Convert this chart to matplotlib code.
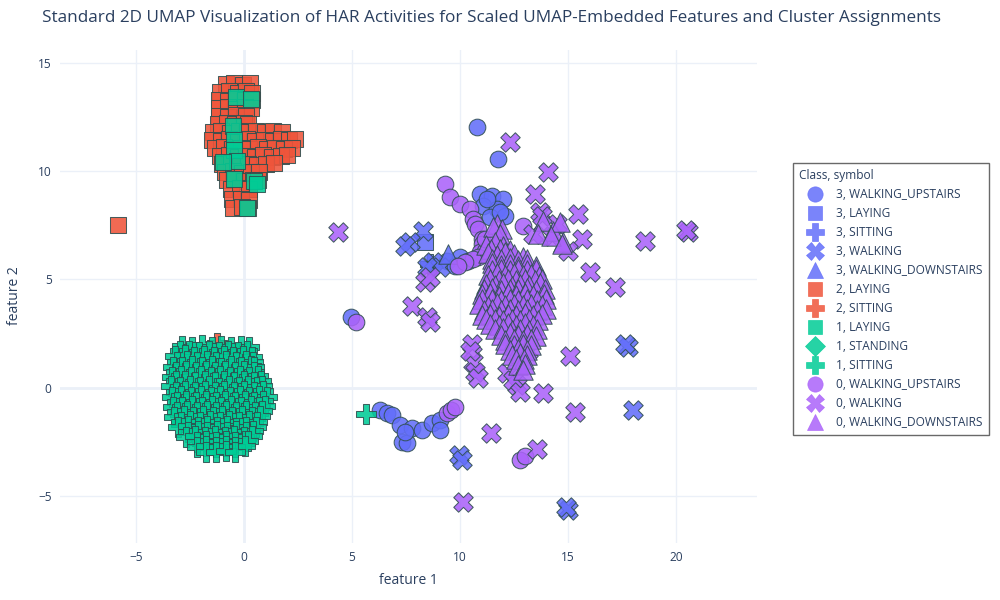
import matplotlib
matplotlib.use("Agg")
import matplotlib.pyplot as plt
from matplotlib.lines import Line2D

plt.rcParams['font.family'] = ['Open Sans', 'DejaVu Sans']

# ---------------- data (feature 1, feature 2) ----------------
c3_walking_upstairs = [
    (10.79, 12.04), (11.76, 10.56), (4.95, 3.24),
    (10.93, 8.94), (11.48, 8.84), (11.99, 8.70), (11.06, 8.38), (11.71, 8.24),
    (12.08, 7.92), (11.39, 7.87), (11.85, 8.10), (11.25, 8.70),
    (9.40, 5.83), (10.00, 6.02), (10.37, 5.83), (9.77, 5.60),
    (6.30, -1.02), (6.62, -1.16), (6.85, -1.25), (7.22, -1.71), (7.31, -2.50),
    (7.55, -2.55), (7.78, -1.85), (8.24, -1.94), (8.70, -1.62), (9.07, -1.48),
    (9.07, -1.94), (7.45, -2.04),
]
c3_laying = [(8.38, 6.71)]
c3_sitting = [(8.60, 5.70)]
c3_walking = [
    (8.29, 7.22), (7.69, 6.71), (7.45, 6.53), (8.75, 5.79), (9.07, 5.56),
    (8.47, 5.56), (17.78, 1.85), (17.64, 1.99), (18.01, -1.02), (9.95, -3.10),
    (10.09, -3.33), (15.00, -5.65), (14.91, -5.51),
]
c3_walking_downstairs = [(9.45, 6.15)]
c2_laying = [
    (-0.85, 14.03), (-0.45, 14.08), (-0.05, 13.98), (0.28, 14.05),
    (-1.10, 13.66), (-0.70, 13.70), (-0.30, 13.62), (0.10, 13.68), (0.37, 13.60),
    (-1.15, 13.29), (-0.75, 13.25), (-0.35, 13.32), (0.05, 13.27), (0.37, 13.30),
    (-1.15, 12.92), (-0.75, 12.96), (-0.35, 12.88), (0.05, 12.94), (0.32, 12.90),
    (-1.15, 12.55), (-0.75, 12.50), (-0.35, 12.58), (0.10, 12.52),
    (-1.20, 12.18), (-0.80, 12.22), (-0.40, 12.15), (0.00, 12.20), (0.20, 12.16),
    (-1.45, 11.81), (-1.05, 11.85), (-0.65, 11.78), (-0.25, 11.84), (0.15, 11.80),
    (0.55, 11.86), (0.95, 11.79), (1.35, 11.83), (1.75, 11.80),
    (-1.48, 11.44), (-1.08, 11.40), (-0.68, 11.47), (-0.28, 11.42), (0.12, 11.46),
    (0.52, 11.41), (0.92, 11.45), (1.32, 11.40), (1.72, 11.47), (2.10, 11.42), (2.35, 11.48),
    (-1.35, 11.06), (-0.95, 11.10), (-0.55, 11.03), (-0.15, 11.08), (0.25, 11.04),
    (0.65, 11.09), (1.05, 11.02), (1.45, 11.07), (1.85, 11.03), (2.20, 11.08),
    (-1.10, 10.69), (-0.70, 10.72), (-0.30, 10.66), (0.10, 10.71), (0.50, 10.67),
    (0.90, 10.72), (1.30, 10.65), (1.70, 10.70), (2.00, 10.75),
    (-1.00, 10.32), (-0.60, 10.35), (-0.20, 10.29), (0.20, 10.34), (0.60, 10.30),
    (1.00, 10.33), (1.40, 10.36),
    (-0.90, 9.95), (-0.50, 9.98), (-0.10, 9.92), (0.30, 9.97), (0.70, 9.94),
    (-0.80, 9.58), (-0.40, 9.61), (0.00, 9.55), (0.40, 9.60), (0.65, 9.57),
    (-0.60, 9.17), (-0.20, 9.20), (0.25, 9.15),
    (-0.55, 8.70), (-0.15, 8.73), (0.25, 8.68),
    (-0.50, 8.29), (-0.10, 8.32), (0.20, 8.27),
    (-5.83, 7.50),
]
c2_sitting = [(-1.25, 2.08)]
c1_laying = [
    (-0.36, 13.40), (0.34, 13.31), (-0.51, 12.08), (-0.46, 11.42), (-0.46, 10.98),
    (-0.32, 10.45), (-0.97, 10.40), (-0.46, 9.63), (0.47, 9.52), (0.60, 9.40),
    (0.14, 8.29),
]
c1_standing = [(-1.00, -0.50)]
c1_sitting = [
    (-2.85, 1.92), (-2.40, 1.86), (-1.95, 1.95), (-1.50, 1.88), (-1.05, 1.93),
    (-0.60, 1.87), (-0.15, 1.94), (0.25, 1.89),
    (-2.98, 1.67), (-2.53, 1.70), (-2.08, 1.64), (-1.63, 1.69), (-1.18, 1.66),
    (-0.73, 1.71), (-0.28, 1.65), (0.15, 1.68),
    (-3.20, 1.44), (-2.75, 1.49), (-2.30, 1.40), (-1.85, 1.46), (-1.40, 1.42),
    (-0.95, 1.48), (-0.50, 1.41), (-0.05, 1.47), (0.35, 1.43),
    (-3.08, 1.20), (-2.63, 1.23), (-2.18, 1.17), (-1.73, 1.22), (-1.28, 1.18),
    (-0.83, 1.24), (-0.38, 1.19), (0.07, 1.22), (0.40, 1.18),
    (-3.30, 0.97), (-2.85, 0.93), (-2.40, 1.01), (-1.95, 0.95), (-1.50, 0.99),
    (-1.05, 0.92), (-0.60, 1.00), (-0.15, 0.94), (0.30, 0.98), (0.45, 0.93),
    (-3.13, 0.74), (-2.68, 0.77), (-2.23, 0.71), (-1.78, 0.76), (-1.33, 0.72),
    (-0.88, 0.78), (-0.43, 0.73), (0.02, 0.76), (0.47, 0.71),
    (-3.35, 0.51), (-2.90, 0.55), (-2.45, 0.48), (-2.00, 0.53), (-1.55, 0.47),
    (-1.10, 0.54), (-0.65, 0.49), (-0.20, 0.55), (0.25, 0.50), (0.65, 0.52),
    (-3.16, 0.28), (-2.71, 0.31), (-2.26, 0.25), (-1.81, 0.30), (-1.36, 0.26),
    (-0.91, 0.32), (-0.46, 0.27), (-0.01, 0.30), (0.44, 0.25), (0.78, 0.29),
    (-3.38, 0.05), (-2.95, 0.01), (-2.50, 0.08), (-2.05, 0.03), (-1.60, 0.07),
    (-1.15, 0.00), (-0.70, 0.06), (-0.25, 0.02), (0.20, 0.08), (0.60, 0.04), (0.85, 0.06),
    (-3.16, -0.19), (-2.71, -0.16), (-2.26, -0.22), (-1.81, -0.17), (-1.36, -0.21),
    (-0.91, -0.15), (-0.46, -0.20), (-0.01, -0.17), (0.44, -0.22), (0.90, -0.18),
    (-3.35, -0.42), (-2.90, -0.38), (-2.45, -0.45), (-2.00, -0.40), (-1.55, -0.44),
    (-1.10, -0.37), (-0.65, -0.43), (-0.20, -0.39), (0.25, -0.45), (0.70, -0.40), (1.05, -0.42),
    (-3.12, -0.65), (-2.67, -0.62), (-2.22, -0.68), (-1.77, -0.63), (-1.32, -0.67),
    (-0.87, -0.61), (-0.42, -0.66), (0.03, -0.63), (0.48, -0.68), (0.88, -0.64),
    (-3.30, -0.88), (-2.85, -0.92), (-2.40, -0.85), (-1.95, -0.90), (-1.50, -0.84),
    (-1.05, -0.91), (-0.60, -0.86), (-0.15, -0.92), (0.30, -0.87), (0.70, -0.90), (0.95, -0.85),
    (-3.08, -1.11), (-2.63, -1.08), (-2.18, -1.14), (-1.73, -1.09), (-1.28, -1.13),
    (-0.83, -1.07), (-0.38, -1.12), (0.07, -1.09), (0.52, -1.14), (0.82, -1.10),
    (-3.25, -1.34), (-2.80, -1.30), (-2.35, -1.37), (-1.90, -1.31), (-1.45, -1.36),
    (-1.00, -1.32), (-0.55, -1.38), (-0.10, -1.33), (0.35, -1.36), (0.75, -1.31),
    (-2.93, -1.57), (-2.48, -1.54), (-2.03, -1.60), (-1.58, -1.55), (-1.13, -1.59),
    (-0.68, -1.53), (-0.23, -1.58), (0.22, -1.55), (0.60, -1.59),
    (-3.05, -1.81), (-2.60, -1.77), (-2.15, -1.84), (-1.70, -1.79), (-1.25, -1.83),
    (-0.80, -1.78), (-0.35, -1.85), (0.10, -1.80), (0.55, -1.82),
    (-2.60, -2.04), (-2.15, -2.01), (-1.70, -2.07), (-1.25, -2.02), (-0.80, -2.06),
    (-0.35, -2.00), (0.10, -2.05), (0.42, -2.02),
    (-2.70, -2.27), (-2.25, -2.23), (-1.80, -2.30), (-1.35, -2.25), (-0.90, -2.29),
    (-0.45, -2.24), (0.00, -2.28), (0.35, -2.25),
    (-2.20, -2.50), (-1.75, -2.47), (-1.30, -2.53), (-0.85, -2.48), (-0.40, -2.52),
    (0.05, -2.49), (0.20, -2.45),
    (-2.20, -2.73), (-1.75, -2.69), (-1.30, -2.75), (-0.85, -2.70), (-0.40, -2.74), (0.05, -2.71),
    (-1.75, -2.96), (-1.30, -2.99), (-0.85, -2.95), (-0.40, -2.98),
    (5.65, -1.20),
]
c0_walking_upstairs = [
    (5.19, 3.01),
    (9.31, 9.40), (9.54, 8.80), (10.00, 8.47), (10.46, 8.24), (10.60, 7.78),
    (10.69, 7.55), (10.83, 7.31), (11.02, 6.85), (11.02, 6.62), (10.93, 6.25),
    (11.16, 6.30), (10.83, 6.02), (10.60, 5.93), (10.23, 5.79), (9.91, 5.60),
    (11.16, 6.85), (12.92, 7.45),
    (9.40, -1.16), (9.58, -1.02), (9.77, -0.88),
    (12.78, -3.33), (13.01, -3.15),
]
c0_walking = [
    (4.35, 7.18), (12.31, 11.34), (14.07, 9.95), (13.47, 8.94), (13.70, 8.10),
    (13.38, 7.08), (14.26, 6.99), (15.46, 8.01), (15.65, 6.85), (15.00, 6.30),
    (16.02, 5.32), (17.18, 4.63), (18.56, 6.76), (20.56, 7.18), (20.46, 7.27),
    (14.49, 7.55), (13.80, 7.92),
    (8.38, 4.86), (8.61, 5.09), (7.78, 3.75), (8.47, 3.24), (8.61, 3.01),
    (10.56, 1.99), (10.60, 1.20), (10.69, 0.74), (10.83, 0.46), (10.46, 1.67),
    (12.18, 0.69), (12.64, 0.14), (13.15, 1.67), (13.84, -0.23), (15.09, 1.44),
    (15.32, -1.11), (11.44, -2.08), (13.56, -2.82), (10.14, -5.28),
    (12.45, 0.37), (12.78, -0.19),
]
c0_walking_downstairs = [
    (11.71, 7.55), (11.94, 7.31), (11.53, 7.41), (11.85, 7.08), (13.84, 7.69),
    (14.31, 7.22), (14.77, 6.71), (14.63, 7.64), (13.60, 7.10), (14.20, 7.00),
    (11.20, 6.60), (11.60, 6.70), (12.00, 6.55), (14.70, 6.65),
    (11.45, 6.40), (11.85, 6.42), (12.30, 6.37),
    (11.30, 6.20), (11.70, 6.10), (12.10, 6.25), (12.50, 6.15), (12.90, 6.05),
    (11.50, 5.95), (11.90, 5.92), (12.30, 5.97), (12.70, 5.90), (13.10, 5.95),
    (11.50, 5.75), (11.90, 5.65), (12.30, 5.72), (12.70, 5.60), (13.10, 5.70), (13.50, 5.62),
    (11.50, 5.45), (11.90, 5.48), (12.30, 5.42), (12.70, 5.47), (13.10, 5.43), (13.50, 5.46),
    (11.30, 5.20), (11.70, 5.30), (12.10, 5.18), (12.50, 5.28), (12.90, 5.20),
    (13.30, 5.25), (13.65, 5.15),
    (11.40, 5.00), (11.80, 4.97), (12.20, 5.02), (12.60, 4.98), (13.00, 5.03),
    (13.45, 4.96), (13.80, 5.00),
    (11.20, 4.80), (11.60, 4.72), (12.00, 4.83), (12.40, 4.70), (12.80, 4.80),
    (13.20, 4.75), (13.70, 4.82),
    (11.10, 4.55), (11.50, 4.58), (11.90, 4.52), (12.30, 4.57), (12.70, 4.53),
    (13.10, 4.58), (13.50, 4.52), (13.95, 4.56),
    (11.00, 4.30), (11.40, 4.38), (11.80, 4.25), (12.20, 4.35), (12.60, 4.28),
    (13.00, 4.36), (13.40, 4.27), (13.90, 4.33),
    (11.00, 4.07), (11.50, 4.10), (11.90, 4.04), (12.30, 4.09), (12.70, 4.05),
    (13.10, 4.10), (13.55, 4.04), (14.00, 4.08),
    (10.90, 3.85), (11.30, 3.78), (11.70, 3.90), (12.10, 3.80), (12.50, 3.88),
    (12.90, 3.79), (13.30, 3.86), (13.80, 3.80),
    (11.10, 3.60), (11.50, 3.63), (11.90, 3.57), (12.30, 3.62), (12.70, 3.58),
    (13.10, 3.63), (13.55, 3.57), (14.00, 3.61),
    (11.00, 3.35), (11.40, 3.42), (11.80, 3.32), (12.20, 3.40), (12.60, 3.36),
    (13.00, 3.44), (13.40, 3.33), (13.80, 3.40),
    (11.20, 3.15), (11.60, 3.18), (12.00, 3.12), (12.40, 3.17), (12.80, 3.13),
    (13.20, 3.18), (13.60, 3.14),
    (11.40, 2.95), (11.80, 2.88), (12.20, 2.96), (12.60, 2.90), (13.00, 2.97), (13.40, 2.90),
    (11.60, 2.70), (12.00, 2.73), (12.40, 2.67), (12.80, 2.72), (13.20, 2.68), (13.55, 2.71),
    (11.90, 2.42), (12.30, 2.50), (12.70, 2.44), (13.10, 2.48), (13.50, 2.40),
    (12.10, 2.20), (12.50, 2.23), (12.90, 2.18), (13.30, 2.22),
    (12.10, 2.00), (12.50, 1.95), (12.90, 2.03), (13.30, 1.97),
    (12.30, 1.75), (12.70, 1.78), (13.10, 1.73),
    (12.40, 1.50), (12.80, 1.58), (13.10, 1.50),
    (12.60, 1.30), (12.95, 1.33),
    (12.70, 1.05), (13.00, 1.10), (12.92, 0.83),
]

legend_labels = [
    "3, WALKING_UPSTAIRS", "3, LAYING", "3, SITTING", "3, WALKING",
    "3, WALKING_DOWNSTAIRS", "2, LAYING", "2, SITTING", "1, LAYING",
    "1, STANDING", "1, SITTING", "0, WALKING_UPSTAIRS", "0, WALKING",
    "0, WALKING_DOWNSTAIRS",
]
x_ticks = [-5, 0, 5, 10, 15, 20]
y_ticks = [-5, 0, 5, 10, 15]

# ---------------- styling ----------------
col = {"3": "#636efa", "2": "#EF553B", "1": "#00cc96", "0": "#ab63fa"}
sym = {"WALKING_UPSTAIRS": "o", "LAYING": "s", "SITTING": "P",
       "WALKING": "X", "WALKING_DOWNSTAIRS": "^", "STANDING": "D"}
msize = {"o": 12.0, "s": 12.0, "P": 14.5, "X": 14.0, "^": 14.0, "D": 11.0}
lsize = {"o": 11.0, "s": 10.5, "P": 12.5, "X": 12.5, "^": 12.0, "D": 10.0}

series = [
    c3_walking_upstairs, c3_laying, c3_sitting, c3_walking, c3_walking_downstairs,
    c2_laying, c2_sitting, c1_laying, c1_standing, c1_sitting,
    c0_walking_upstairs, c0_walking, c0_walking_downstairs,
]

TXT = "#2a3f5f"
GRID = "#EBF0F8"

fig = plt.figure(figsize=(10, 6), dpi=100)
ax = fig.add_axes([0.060, 0.095, 0.697, 0.822])

handles = []
for i, (lab, pts) in enumerate(zip(legend_labels, series)):
    cls, act = lab.split(", ")
    c = col[cls]
    m = sym[act]
    xs = [p[0] for p in pts]
    ys = [p[1] for p in pts]
    ax.scatter(xs, ys, s=msize[m] ** 2, marker=m, facecolor=c, alpha=0.88,
               edgecolor="#2F4F4F", linewidth=0.75, zorder=3 + i)
    handles.append(Line2D([], [], marker=m, linestyle="none", markersize=lsize[m],
                          markerfacecolor=c, markeredgecolor=c, alpha=0.85,
                          markeredgewidth=0.5, label=lab))

ax.set_xlim(-8.52, 23.75)
ax.set_ylim(-7.18, 15.6)
ax.set_xticks(x_ticks)
ax.set_yticks(y_ticks)
ax.set_xticklabels(["\u22125", "0", "5", "10", "15", "20"])
ax.set_yticklabels(["\u22125", "0", "5", "10", "15"])
ax.grid(True, color=GRID, linewidth=1, zorder=0)
ax.set_axisbelow(True)
ax.axhline(0, color=GRID, linewidth=2, zorder=1)
ax.axvline(0, color=GRID, linewidth=2, zorder=1)
for s in ax.spines.values():
    s.set_visible(False)
ax.tick_params(length=0, labelsize=8.6, labelcolor=TXT, pad=6)

fig.text(0.408, 0.033, "feature 1", ha="center", va="center", fontsize=10, color=TXT)
fig.text(0.015, 0.507, "feature 2", ha="center", va="center", fontsize=10,
         color=TXT, rotation=90)
fig.text(0.491, 0.970,
         "Standard 2D UMAP Visualization of HAR Activities for Scaled UMAP-Embedded Features and Cluster Assignments",
         ha="center", va="center", fontsize=12.3, color=TXT)

leg = fig.legend(handles=handles, title="Class, symbol", loc="upper left",
                 bbox_to_anchor=(0.7925, 0.729), bbox_transform=fig.transFigure,
                 fontsize=8.6, title_fontsize=8.6, frameon=True, fancybox=False,
                 borderaxespad=0, borderpad=0.55, handlelength=2.6,
                 handletextpad=0.5, labelspacing=0.5)
leg.get_frame().set_edgecolor("#444444")
leg.get_frame().set_linewidth(1)
leg._legend_box.align = "left"
leg.get_title().set_color(TXT)
for t in leg.get_texts():
    t.set_color(TXT)

fig.savefig("out.png", dpi=100)
